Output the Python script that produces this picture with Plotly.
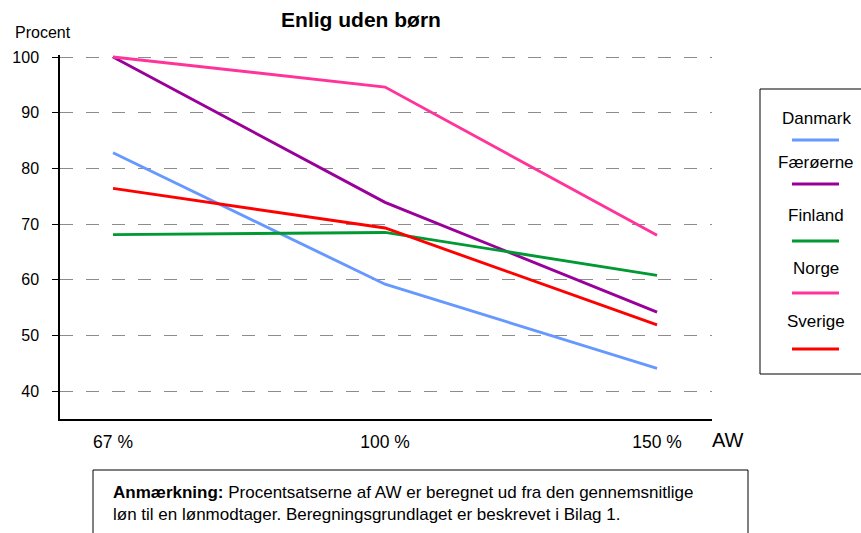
import plotly.graph_objects as go

# ---- data ----
categories = ["67 %", "100 %", "150 %"]
countries = ["Danmark", "Færøerne", "Finland", "Norge", "Sverige"]
danmark = [82.8, 59.2, 44.1]
faeroerne = [100.0, 73.9, 54.2]
finland = [68.1, 68.5, 60.8]
norge = [100.0, 94.6, 68.0]
sverige = [76.4, 69.3, 51.9]
y_ticks = [40, 50, 60, 70, 80, 90, 100]
colors = ["#6699FF", "#990099", "#009933", "#FF3399", "#FF0000"]

series = [danmark, faeroerne, finland, norge, sverige]

W, H = 861, 533
L, R, T, B = 60, 712, 55, 419  # plot area in pixels
Y_MIN, Y_MAX = 35, 100 + 2 / ((419 - 57) / 65)


def px_x(px):
    return (px - L) / (R - L)


def px_y(py):
    return (B - py) / (B - T)


fig = go.Figure()
for name, vals, col in zip(countries, series, colors):
    fig.add_trace(go.Scatter(x=categories, y=vals, mode="lines", name=name,
                             line=dict(color=col, width=2.9), showlegend=False))

font_family = "Liberation Sans, Arial, sans-serif"

fig.update_layout(
    width=W, height=H,
    margin=dict(l=L, r=W - R, t=T, b=H - B),
    paper_bgcolor="white", plot_bgcolor="white",
    font=dict(family=font_family, color="black"),
    title=dict(text="<b>Enlig uden børn</b>", x=px_x(361), xref="paper",
               xanchor="center", y=1 - 20 / H, yanchor="middle",
               font=dict(size=21, family=font_family, color="black")),
    xaxis=dict(type="category", range=[-0.195, 2.202], showgrid=False,
               showline=True, linecolor="black", linewidth=1.5,
               ticks="", tickfont=dict(size=17.5), zeroline=False,
               ticklabelstandoff=6),
    yaxis=dict(range=[Y_MIN, Y_MAX], tickvals=y_ticks, showgrid=True,
               gridcolor="#8c8c8c", griddash="13px,13px", gridwidth=1,
               showline=True, linecolor="black", linewidth=1.5,
               ticks="outside", ticklen=6, tickcolor="black", tickwidth=1,
               tickfont=dict(size=16), zeroline=False, ticklabelstandoff=10),
)

annotations = [
    dict(text="Procent", x=px_x(13), y=px_y(32), xanchor="left", yanchor="middle",
         font=dict(size=16)),
    dict(text="AW", x=px_x(728), y=px_y(440), xanchor="center", yanchor="middle",
         font=dict(size=20)),
    dict(text="<b>Anmærkning:</b> Procentsatserne af AW er beregnet ud fra den gennemsnitlige"
              "<br>løn til en lønmodtager. Beregningsgrundlaget er beskrevet i Bilag 1.",
         x=px_x(111), y=px_y(503), xanchor="left", yanchor="middle", align="left",
         font=dict(size=17)),
]

shapes = [
    # legend box
    dict(type="rect", xref="paper", yref="paper", x0=px_x(760), x1=px_x(880),
         y0=px_y(374), y1=px_y(89), line=dict(color="black", width=1)),
    # note box
    dict(type="rect", xref="paper", yref="paper", x0=px_x(93), x1=px_x(748),
         y0=px_y(560), y1=px_y(470), line=dict(color="black", width=1)),
]

text_y = [118, 162, 215, 268, 321]
line_y = [140, 184, 241, 293, 349]
for name, col, ty, ly in zip(countries, colors, text_y, line_y):
    annotations.append(dict(text=name, x=px_x(816), y=px_y(ty), xanchor="center",
                            yanchor="middle", font=dict(size=17)))
    shapes.append(dict(type="line", xref="paper", yref="paper", x0=px_x(792),
                       x1=px_x(839), y0=px_y(ly), y1=px_y(ly),
                       line=dict(color=col, width=2.9)))

for a in annotations:
    a.update(xref="paper", yref="paper", showarrow=False)

fig.update_layout(annotations=annotations, shapes=shapes)
fig.write_html("out.html", config={"displayModeBar": False},
               post_script="document.body.style.margin='0px';document.body.style.overflow='hidden';")
